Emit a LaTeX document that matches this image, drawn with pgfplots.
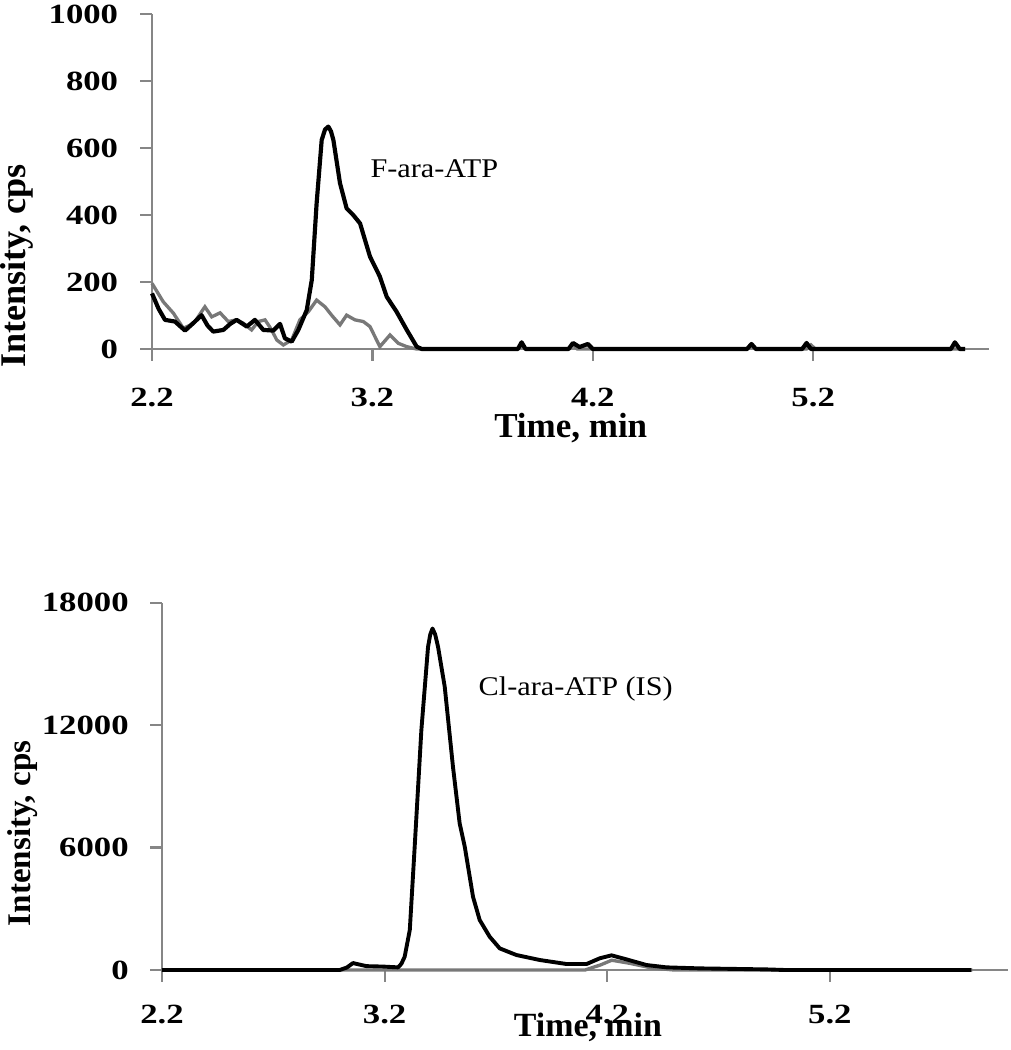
\documentclass[border=0pt]{standalone}
\usepackage{fontspec}
\setmainfont{Liberation Serif}
\newfontfamily\tickfont[FakeStretch=1.25, BoldFeatures={FakeStretch=1.25}]{Liberation Serif}
\newfontfamily\annfont[FakeStretch=1.12]{Liberation Serif}
\usepackage{pgfplots}
\pgfplotsset{compat=1.18}
\definecolor{axisgray}{RGB}{134,134,134}
\definecolor{linegray}{RGB}{120,120,120}
\pgfplotsset{
  chrom/.style={
    scale only axis,
    axis lines=left,
    axis line style={-, draw=axisgray, line width=0.8pt},
    tick style={draw=axisgray, line width=0.8pt},
    tick align=outside,
    major tick length=4.2pt,
    enlargelimits=false,
    clip=false,
    scaled ticks=false,
    xmin=2.2, xmax=6.0,
    xtick={2.2,3.2,4.2,5.2},
    xticklabels={2.2,3.2,4.2,5.2},
    ticklabel style={font=\tickfont\bfseries\fontsize{10}{12}\selectfont, inner sep=0pt},
    yticklabel style={anchor=east},
    xticklabel style={anchor=base},
  }
}
\begin{document}
\begin{tikzpicture}
% ---------- top panel ----------
\begin{axis}[chrom,
  at={(54.72pt,-125.64pt)}, anchor=south west,
  width=301.5pt, height=120.6pt,
  ymin=0, ymax=1000,
  ytick={0,200,400,600,800,1000},
  yticklabels={0,200,400,600,800,1000},
  yticklabel style={xshift=-7.8pt},
  xticklabel style={yshift=-16.6pt},
]
\addplot[linegray, line width=1.2pt] coordinates {
(2.20,196) (2.251,141) (2.297,107) (2.342,62) (2.37,70) (2.395,82) (2.44,126)
(2.471,96) (2.509,108) (2.546,82) (2.584,87) (2.614,77) (2.652,57) (2.682,82)
(2.713,87) (2.743,57) (2.766,27) (2.796,12) (2.834,27) (2.871,87) (2.909,111)
(2.947,146) (2.985,126) (3.015,101) (3.053,72) (3.083,101) (3.121,87) (3.159,82)
(3.189,67) (3.234,7) (3.28,42) (3.318,17) (3.356,7) (3.40,0) (3.86,0) (3.877,10)
(3.895,0) (4.09,0) (4.11,12) (4.13,0) (4.90,0) (4.92,12) (4.94,0) (5.17,0)
(5.19,12) (5.21,0) (5.89,0)
};
\addplot[black, line width=1.5pt, line join=round] coordinates {
(2.20,166) (2.23,120) (2.259,87) (2.304,82) (2.35,55) (2.387,77) (2.425,101)
(2.452,70) (2.478,52) (2.524,57) (2.555,75) (2.584,87) (2.63,67) (2.667,87)
(2.705,57) (2.75,55) (2.781,75) (2.803,32) (2.834,22) (2.864,57) (2.902,116)
(2.925,206) (2.947,435) (2.97,624) (2.985,655) (3.00,664) (3.012,650) (3.023,624)
(3.053,495) (3.083,420) (3.113,400) (3.144,375) (3.189,276) (3.234,216) (3.265,156)
(3.31,111) (3.356,57) (3.401,7) (3.424,0) (3.86,0) (3.877,20) (3.895,0) (4.09,0)
(4.11,18) (4.14,6) (4.178,15) (4.20,0) (4.90,0) (4.92,15) (4.94,0) (5.15,0)
(5.17,18) (5.19,0) (5.825,0) (5.843,20) (5.865,0) (5.89,0)
};
\node[anchor=base west, inner sep=0pt, font=\annfont\fontsize{9.72}{11}\selectfont] at (axis cs:3.189,513) {F-ara-ATP};
\node[anchor=base, inner sep=0pt, font=\bfseries\fontsize{12.6}{14}\selectfont] at (axis description cs:0.5,0) [yshift=-32pt] {Time, min};
\node[rotate=90, anchor=base west, inner sep=0pt, font=\bfseries\fontsize{13}{15}\selectfont] at (axis description cs:-0.1516,-0.0567) {Intensity, cps};
\end{axis}
% ---------- bottom panel ----------
\begin{axis}[chrom,
  at={(58.32pt,-349.2pt)}, anchor=south west,
  width=304.56pt, height=132.2pt,
  ymin=0, ymax=18000,
  ytick={0,6000,12000,18000},
  yticklabels={0,6000,12000,18000},
  yticklabel style={xshift=-7.6pt},
  xticklabel style={yshift=-15.1pt},
]
\addplot[linegray, line width=1.2pt] coordinates {
(2.20,0) (4.10,0) (4.17,250) (4.22,480) (4.30,330) (4.40,100) (4.50,0) (5.84,0)
};
\addplot[black, line width=1.4pt, line join=round] coordinates {
(2.20,0) (2.998,0) (3.03,120) (3.058,340) (3.09,260) (3.118,190) (3.19,170)
(3.26,130) (3.275,300) (3.29,650) (3.313,1960) (3.335,6040) (3.365,11760)
(3.395,15840) (3.405,16450) (3.415,16740) (3.427,16450) (3.44,15840) (3.47,13880)
(3.507,9960) (3.537,7190) (3.56,6040) (3.597,3590) (3.627,2450) (3.672,1630)
(3.717,1060) (3.792,735) (3.897,490) (4.017,294) (4.107,294) (4.166,573)
(4.219,720) (4.286,523) (4.376,245) (4.466,130) (4.616,80) (4.915,30) (5.0,0)
(5.836,0)
};
\node[anchor=base west, inner sep=0pt, font=\annfont\fontsize{9.72}{11}\selectfont] at (axis cs:3.62,13475) {Cl-ara-ATP (IS)};
\node[anchor=base, inner sep=0pt, font=\bfseries\fontsize{12.2}{14}\selectfont] at (axis description cs:0.5035,0) [yshift=-24pt] {Time, min};
\node[rotate=90, anchor=base west, inner sep=0pt, font=\bfseries\fontsize{11.9}{14}\selectfont] at (axis description cs:-0.156,0.118) {Intensity, cps};
\end{axis}
\pgfresetboundingbox
\path (0pt,0pt) rectangle (363.96pt,-378pt);
\end{tikzpicture}
\end{document}
